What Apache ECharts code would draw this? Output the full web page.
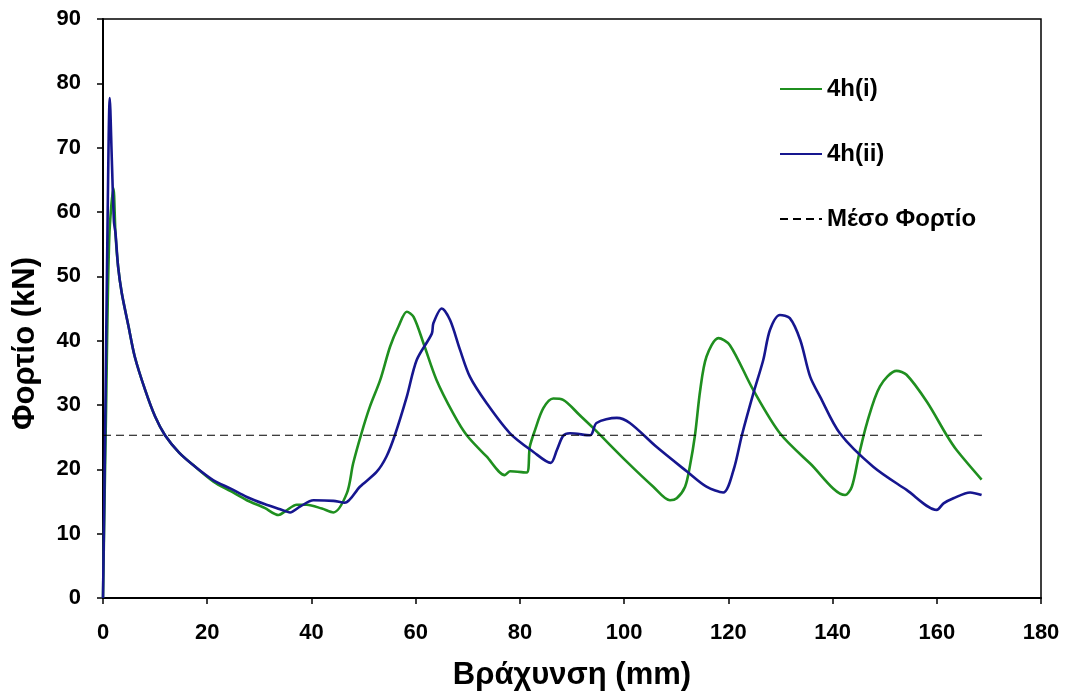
<!DOCTYPE html>
<html>
<head>
<meta charset="utf-8">
<script src="https://cdn.jsdelivr.net/npm/echarts@6/dist/echarts.min.js"></script>
<style>html,body{margin:0;padding:0;background:#fff}#c{width:1066px;height:698px}</style>
</head>
<body>
<div id="c"></div>
<script>
const seriesNames = ['4h(i)', '4h(ii)', 'Μέσο Φορτίο'];
const greenX = [0, 0.6, 1.2, 2.0, 2.4, 2.9, 3.6, 4.9, 6.1, 8.1, 10.0, 11.9, 14.6, 17.7, 21.2, 24.5, 27.6, 31, 33.7, 35, 37.2, 39.1, 42, 44.2, 46.8, 48.0, 49.6, 51.2, 53.2, 55.1, 56.7, 58.3, 59.6, 61.5, 64.0, 67.2, 69.8, 73.6, 77.1, 78.1, 81.3, 81.9, 82.9, 84.5, 86.4, 88.3, 91.5, 94.1, 100.5, 105.6, 108.8, 110.1, 111.7, 112.6, 113.6, 114.6, 115.8, 118.1, 120.3, 124.8, 129.9, 135.7, 142.4, 143.7, 145.0, 146.6, 149.1, 152.3, 154.2, 158.1, 161.9, 163.8, 168.6];
const greenY = [0, 30, 56, 63.7, 56.5, 51.5, 47.4, 42.2, 37.5, 32.3, 28.2, 25.3, 22.6, 20.4, 18.1, 16.6, 15.2, 14.0, 12.9, 13.5, 14.5, 14.5, 13.9, 13.3, 16.3, 20.9, 25.6, 29.7, 33.9, 39.1, 42.2, 44.5, 43.7, 39.6, 33.9, 28.7, 25.3, 22.0, 19.1, 19.7, 19.5, 23.5, 26.1, 29.5, 31.0, 30.8, 28.4, 26.4, 21.2, 17.3, 15.2, 15.5, 17.3, 20.4, 25.3, 32.3, 37.5, 40.4, 39.3, 32.3, 25.6, 20.9, 16.0, 17.3, 22.0, 27.2, 32.9, 35.3, 34.7, 30.5, 25.3, 23.0, 18.4];
const blueX = [0, 0.4, 0.9, 1.3, 1.7, 2.1, 2.4, 2.9, 3.6, 4.9, 6.1, 8.1, 10.0, 11.9, 14.6, 17.7, 21.2, 24.5, 27.6, 31, 34.0, 35.9, 37.8, 40.4, 44.2, 46.4, 49.3, 52.5, 54.4, 56.0, 58.3, 60.2, 63.1, 63.4, 65.0, 66.6, 68.5, 70.4, 73.6, 78.1, 82.6, 85.9, 87.1, 88.3, 89.6, 93.5, 94.7, 98.6, 101.1, 106.2, 112.0, 115.8, 119.0, 121.0, 122.6, 124.8, 126.7, 128.0, 129.9, 131.8, 133.8, 135.7, 137.6, 141.4, 147.8, 154.2, 160.0, 161.3, 163.2, 166.4, 168.6];
const blueY = [0, 25, 60, 77.7, 68, 58.5, 56.7, 51.5, 47.4, 42.2, 37.5, 32.3, 28.2, 25.3, 22.6, 20.4, 18.3, 17.0, 15.7, 14.6, 13.8, 13.3, 14.2, 15.2, 15.1, 14.8, 17.3, 19.6, 22.0, 25.3, 31.3, 37.0, 41.1, 42.7, 45.0, 43.2, 38.6, 34.4, 30.3, 25.6, 22.7, 21.0, 23.0, 25.2, 25.6, 25.3, 27.2, 28.0, 27.2, 23.5, 19.7, 17.3, 16.4, 19.9, 25.3, 31.8, 37.0, 41.7, 44.0, 43.5, 40.1, 34.4, 31.3, 25.6, 20.4, 16.8, 13.7, 14.7, 15.5, 16.4, 16.0];
const meanX = [0, 168.8];
const meanY = [25.3, 25.3];
const xTitle = 'Βράχυνση (mm)';
const yTitle = 'Φορτίο (kN)';

const zip = (a, b) => a.map((v, i) => [v, b[i]]);
const chart = echarts.init(document.getElementById('c'));
const FONT = '"Liberation Sans",Arial,sans-serif';
const tickFont = { fontFamily: FONT, fontWeight: 'bold', fontSize: 22, color: '#000' };
chart.setOption({
  animation: false,
  backgroundColor: '#fff',
  grid: { left: 103, right: 25, top: 19, bottom: 100, show: true, borderColor: '#000', borderWidth: 1.5 },
  legend: {
    orient: 'vertical', left: 779, top: 77, padding: 0, itemWidth: 42, itemHeight: 14, itemGap: 41,
    itemStyle: { opacity: 0 },
    textStyle: { fontFamily: FONT, fontWeight: 'bold', fontSize: 24, color: '#000' },
    data: seriesNames
  },
  xAxis: {
    type: 'value', min: 0, max: 180, interval: 20,
    name: xTitle, nameLocation: 'middle', nameGap: 62,
    nameTextStyle: { fontFamily: FONT, fontWeight: 'bold', fontSize: 31, color: '#000' },
    axisLine: { lineStyle: { color: '#000', width: 2 } },
    axisTick: { show: true, inside: false, length: 6, lineStyle: { color: '#000', width: 1.5 } },
    axisLabel: Object.assign({ margin: 24 }, tickFont),
    splitLine: { show: false }
  },
  yAxis: {
    type: 'value', min: 0, max: 90, interval: 10,
    name: yTitle, nameLocation: 'middle', nameGap: 62,
    nameTextStyle: { fontFamily: FONT, fontWeight: 'bold', fontSize: 31, color: '#000', padding: [0, 70, 0, 0] },
    axisLine: { show: true, lineStyle: { color: '#000', width: 2 } },
    axisTick: { show: true, inside: false, length: 6, lineStyle: { color: '#000', width: 1.5 } },
    axisLabel: Object.assign({ margin: 22 }, tickFont),
    splitLine: { show: false }
  },
  series: [
    { name: seriesNames[0], type: 'line', data: zip(greenX, greenY), showSymbol: false, symbol: 'none', smooth: 0.3,
      lineStyle: { color: '#1f8f1f', width: 2.6 }, itemStyle: { color: '#1f8f1f' } },
    { name: seriesNames[1], type: 'line', data: zip(blueX, blueY), showSymbol: false, symbol: 'none', smooth: 0.3,
      lineStyle: { color: '#16168f', width: 2.6 }, itemStyle: { color: '#16168f' } },
    { name: seriesNames[2], type: 'line', data: zip(meanX, meanY), showSymbol: false, symbol: 'none',
      lineStyle: { color: '#000', width: 1.2, type: [8, 5] }, itemStyle: { color: '#000' } }
  ]
});
</script>
</body>
</html>
